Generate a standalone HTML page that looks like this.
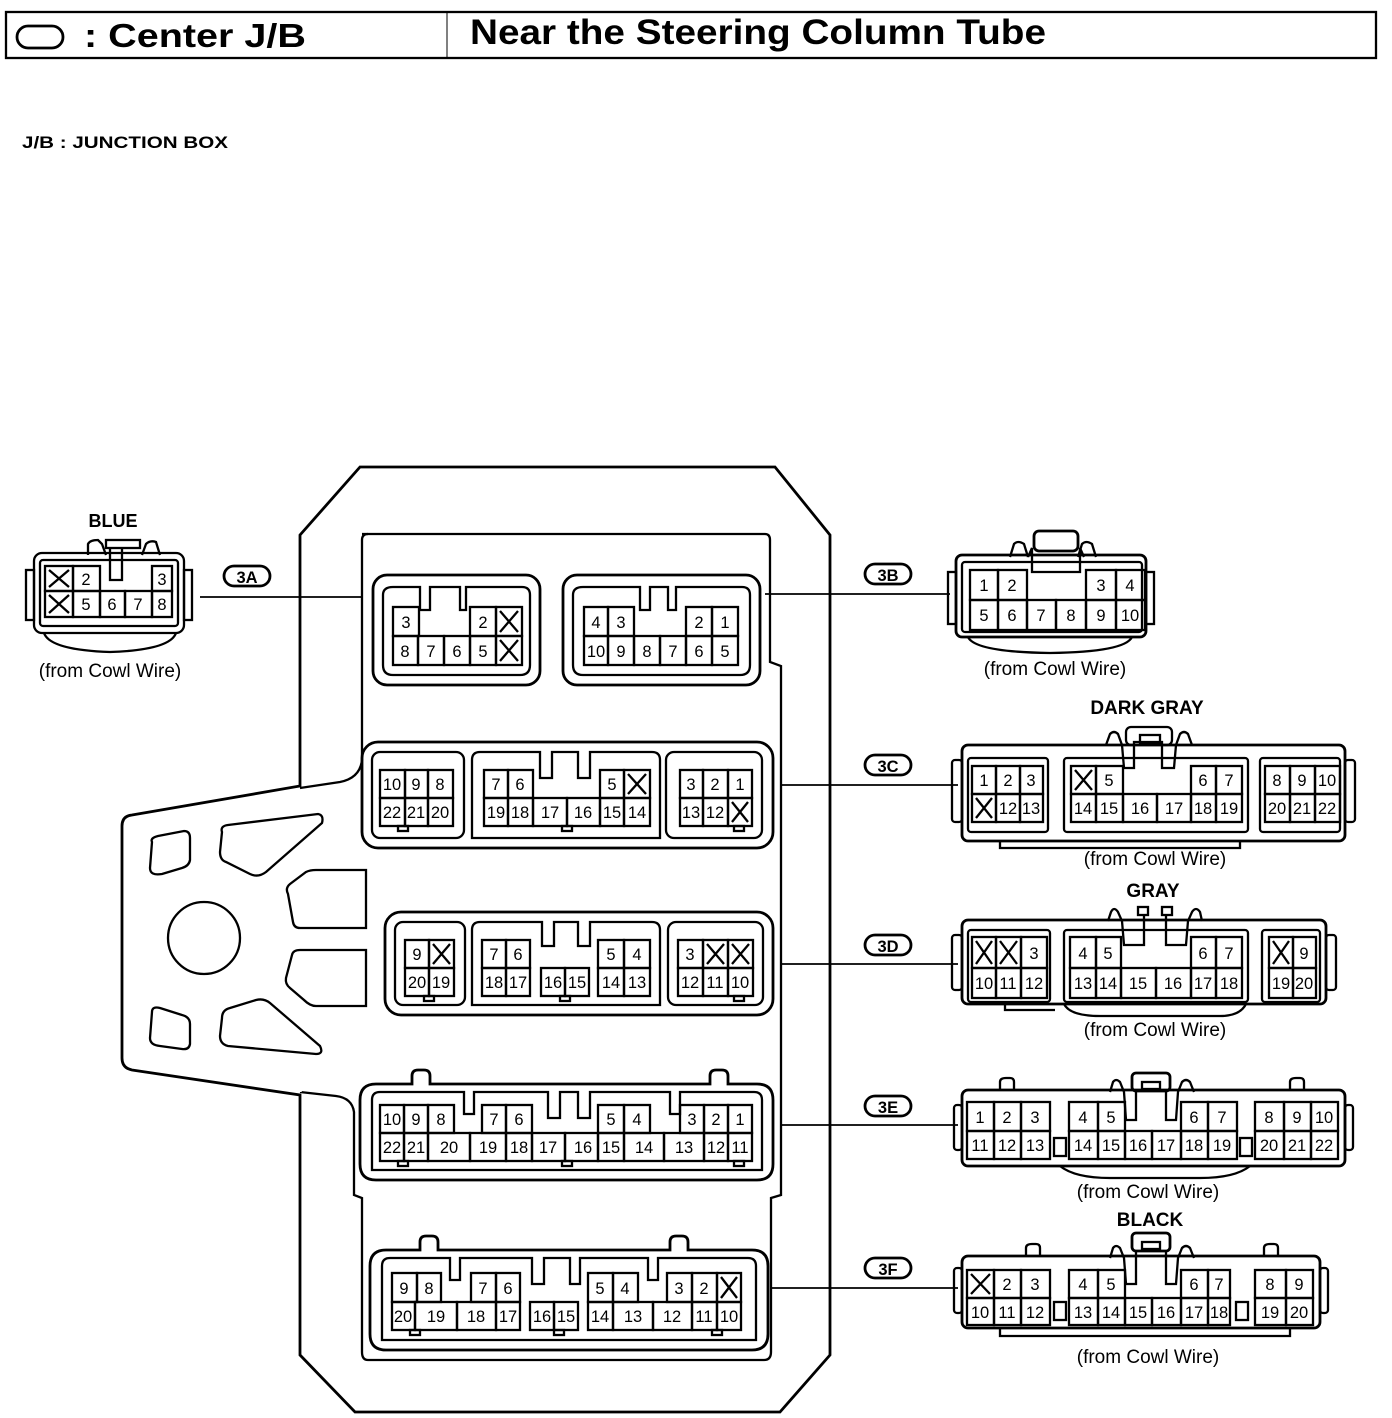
<!DOCTYPE html>
<html><head><meta charset="utf-8"><style>
html,body{margin:0;padding:0;background:#fff}
svg{display:block}
text{font-family:"Liberation Sans",sans-serif;fill:#000}
.n{font-size:16.5px;text-anchor:middle}
.l{font-size:19px;text-anchor:middle}
.b{font-weight:bold}
rect,path,circle,ellipse,polyline{fill:none;stroke:#000;stroke-width:2.3}
.t{stroke-width:2.8}
</style></head><body>
<svg width="1392" height="1418" viewBox="0 0 1392 1418" xmlns="http://www.w3.org/2000/svg">
<!-- header -->
<rect x="6" y="12" width="1370" height="46" stroke-width="1.5"/>
<line x1="447" y1="12" x2="447" y2="58" stroke="#000" stroke-width="1"/>
<rect x="17" y="26" width="46" height="22" rx="11" class="t"/>
<text x="84" y="47" textLength="222" lengthAdjust="spacingAndGlyphs" style="font-size:33px;font-weight:bold">: Center J/B</text>
<text x="470" y="44" textLength="576" lengthAdjust="spacingAndGlyphs" style="font-size:35px;font-weight:bold">Near the Steering Column Tube</text>
<text x="22" y="148" textLength="206" lengthAdjust="spacingAndGlyphs" style="font-size:17px;font-weight:bold">J/B : JUNCTION BOX</text>

<!-- J/B outer body -->
<path class="t" d="M360,467 L775,467 L830,535 L830,1355 L780,1412 L355,1412 L300,1355 L300,1095 L132,1070 Q122,1068 122,1058 L122,826 Q122,816 132,815 L300,786 L300,535 Z"/>
<path d="M362,534 L765,534 Q770,534 770,540 L770,662 L781,666 L781,1195 L771,1198 L771,1352 Q771,1360 764,1360 L368,1360 Q362,1360 362,1352 L362,1198 L354,1195 L354,1112 Q352,1098 336,1096 L300,1092"/>
<path d="M300,788 L340,782 Q360,778 362,760 L362,540 Q362,534 368,534"/>
<line x1="300" y1="790" x2="300" y2="1092" stroke="#fff" stroke-width="3.5"/>
<!-- ear holes -->
<circle cx="204" cy="938" r="36"/>
<path d="M152,842 Q150,838 158,836 L184,831 Q190,831 190,838 L190,860 Q189,866 182,868 L162,874 Q150,876 150,868 Z"/>
<path d="M222,832 Q220,826 228,825 L318,814 Q324,815 322,823 L266,872 Q258,878 250,874 L226,862 Q220,860 220,852 Z"/>
<path d="M288,894 Q285,888 290,884 L306,872 Q310,870 316,870 L366,870 L366,928 L300,928 Q294,928 293,922 Z"/>
<path d="M292,955 Q293,950 300,950 L366,950 L366,1006 L316,1006 Q310,1006 304,1000 L290,988 Q285,984 286,978 Z"/>
<path d="M152,1012 Q152,1006 160,1008 L182,1015 Q190,1017 190,1024 L190,1044 Q189,1050 182,1049 L160,1046 Q150,1045 150,1038 Z"/>
<path d="M222,1018 Q222,1010 230,1008 L256,1000 Q264,998 270,1003 L320,1046 Q324,1054 316,1054 L228,1046 Q220,1044 220,1036 Z"/>

<!-- ===== 3A ext ===== -->
<text x="113" y="527" class="l b" style="font-size:18px">BLUE</text>
<path d="M88,555 L88,544 Q90,540 98,540 L102,544 L106,555"/>
<path d="M142,555 L146,544 Q150,540 156,542 L160,555"/>
<rect x="106" y="540" width="34" height="8"/>
<path d="M110,548 L110,580 L122,580 L122,548"/>
<rect x="34" y="553" width="150" height="80" rx="8"/>
<rect x="40" y="560" width="138" height="66" rx="3"/>
<rect x="26" y="570" width="8" height="50"/><rect x="184" y="570" width="8" height="50"/>
<path d="M44,633 Q50,650 110,652 Q170,650 176,633"/>
<g>
<rect x="45" y="566" width="28" height="25"/><path d="M49,570 L69,587 M69,570 L49,587"/>
<rect x="73" y="566" width="27" height="25"/><text x="86" y="585" class="n">2</text>
<rect x="152" y="566" width="20" height="25"/><text x="162" y="585" class="n">3</text>
<rect x="45" y="591" width="28" height="26"/><path d="M49,595 L69,613 M69,595 L49,613"/>
<rect x="73" y="591" width="27" height="26"/><text x="86" y="610" class="n">5</text>
<rect x="100" y="591" width="25" height="26"/><text x="112" y="610" class="n">6</text>
<rect x="125" y="591" width="27" height="26"/><text x="138" y="610" class="n">7</text>
<rect x="152" y="591" width="20" height="26"/><text x="162" y="610" class="n">8</text>
</g>
<text x="110" y="677" class="l">(from Cowl Wire)</text>
<rect x="224" y="566" width="46" height="20" rx="10" class="t"/><text x="247" y="583" class="n b">3A</text>
<line x1="200" y1="597" x2="362" y2="597" stroke="#000" stroke-width="1.8"/>

<!-- ===== J/B 3A ===== -->
<rect x="373" y="575" width="167" height="110" rx="14" class="t"/>
<path d="M393,587 L420,587 L420,610 L430,610 L430,587 L460,587 L460,610 L466,610 L466,587 L522,587 Q530,587 530,595 L530,665 Q530,675 520,675 L393,675 Q383,675 383,665 L383,595 Q383,587 393,587"/>
<rect x="393" y="607" width="26" height="29"/><text x="406" y="628" class="n">3</text>
<rect x="470" y="607" width="26" height="29"/><text x="483" y="628" class="n">2</text>
<rect x="496" y="607" width="26" height="29"/><path d="M500,611 L518,632 M518,611 L500,632"/>
<rect x="393" y="636" width="25" height="29"/><text x="405" y="657" class="n">8</text>
<rect x="418" y="636" width="26" height="29"/><text x="431" y="657" class="n">7</text>
<rect x="444" y="636" width="26" height="29"/><text x="457" y="657" class="n">6</text>
<rect x="470" y="636" width="26" height="29"/><text x="483" y="657" class="n">5</text>
<rect x="496" y="636" width="26" height="29"/><path d="M500,640 L518,661 M518,640 L500,661"/>

<!-- ===== J/B 3B ===== -->
<rect x="563" y="575" width="197" height="110" rx="14" class="t"/>
<path d="M583,587 L640,587 L640,610 L650,610 L650,587 L668,587 L668,610 L676,610 L676,587 L742,587 Q750,587 750,595 L750,665 Q750,675 740,675 L583,675 Q573,675 573,665 L573,595 Q573,587 583,587"/>
<rect x="584" y="607" width="24" height="29"/><text x="596" y="628" class="n">4</text>
<rect x="608" y="607" width="26" height="29"/><text x="621" y="628" class="n">3</text>
<rect x="686" y="607" width="26" height="29"/><text x="699" y="628" class="n">2</text>
<rect x="712" y="607" width="26" height="29"/><text x="725" y="628" class="n">1</text>
<rect x="584" y="636" width="24" height="29"/><text x="596" y="657" class="n">10</text>
<rect x="608" y="636" width="26" height="29"/><text x="621" y="657" class="n">9</text>
<rect x="634" y="636" width="26" height="29"/><text x="647" y="657" class="n">8</text>
<rect x="660" y="636" width="26" height="29"/><text x="673" y="657" class="n">7</text>
<rect x="686" y="636" width="26" height="29"/><text x="699" y="657" class="n">6</text>
<rect x="712" y="636" width="26" height="29"/><text x="725" y="657" class="n">5</text>

<!-- ===== J/B 3C ===== -->
<rect x="362" y="742" width="411" height="106" rx="16" class="t"/>
<rect x="372" y="752" width="92" height="86" rx="8"/>
<path d="M480,752 L540,752 L540,778 L552,778 L552,752 L578,752 L578,778 L590,778 L590,752 L652,752 Q660,752 660,760 L660,838 L472,838 L472,760 Q472,752 480,752"/>
<rect x="666" y="752" width="96" height="86" rx="8"/>
<g>
<rect x="380" y="770" width="25" height="28"/><text x="392" y="790" class="n">10</text>
<rect x="405" y="770" width="23" height="28"/><text x="416" y="790" class="n">9</text>
<rect x="428" y="770" width="25" height="28"/><text x="440" y="790" class="n">8</text>
<rect x="380" y="798" width="25" height="28"/><text x="392" y="818" class="n">22</text>
<rect x="405" y="798" width="23" height="28"/><text x="416" y="818" class="n">21</text>
<rect x="428" y="798" width="25" height="28"/><text x="440" y="818" class="n">20</text>
<rect x="398" y="826" width="10" height="5"/>
<rect x="484" y="770" width="24" height="28"/><text x="496" y="790" class="n">7</text>
<rect x="508" y="770" width="25" height="28"/><text x="520" y="790" class="n">6</text>
<rect x="600" y="770" width="24" height="28"/><text x="612" y="790" class="n">5</text>
<rect x="624" y="770" width="26" height="28"/><path d="M628,774 L646,794 M646,774 L628,794"/>
<rect x="484" y="798" width="24" height="28"/><text x="496" y="818" class="n">19</text>
<rect x="508" y="798" width="25" height="28"/><text x="520" y="818" class="n">18</text>
<rect x="533" y="798" width="34" height="28"/><text x="550" y="818" class="n">17</text>
<rect x="567" y="798" width="33" height="28"/><text x="583" y="818" class="n">16</text>
<rect x="600" y="798" width="24" height="28"/><text x="612" y="818" class="n">15</text>
<rect x="624" y="798" width="26" height="28"/><text x="637" y="818" class="n">14</text>
<rect x="562" y="826" width="10" height="5"/>
<rect x="680" y="770" width="23" height="28"/><text x="691" y="790" class="n">3</text>
<rect x="703" y="770" width="25" height="28"/><text x="715" y="790" class="n">2</text>
<rect x="728" y="770" width="24" height="28"/><text x="740" y="790" class="n">1</text>
<rect x="680" y="798" width="23" height="28"/><text x="691" y="818" class="n">13</text>
<rect x="703" y="798" width="25" height="28"/><text x="715" y="818" class="n">12</text>
<rect x="728" y="798" width="24" height="28"/><path d="M732,802 L748,822 M748,802 L732,822"/>
<rect x="734" y="826" width="10" height="5"/>
</g>

<!-- ===== J/B 3D ===== -->
<rect x="385" y="912" width="388" height="103" rx="16" class="t"/>
<rect x="395" y="922" width="70" height="83" rx="8"/>
<path d="M480,922 L542,922 L542,946 L554,946 L554,922 L578,922 L578,946 L590,946 L590,922 L652,922 Q660,922 660,930 L660,1005 L472,1005 L472,930 Q472,922 480,922"/>
<rect x="668" y="922" width="95" height="83" rx="8"/>
<g>
<rect x="405" y="940" width="24" height="28"/><text x="417" y="960" class="n">9</text>
<rect x="429" y="940" width="25" height="28"/><path d="M433,944 L450,964 M450,944 L433,964"/>
<rect x="405" y="968" width="24" height="28"/><text x="417" y="988" class="n">20</text>
<rect x="429" y="968" width="25" height="28"/><text x="441" y="988" class="n">19</text>
<rect x="424" y="996" width="10" height="5"/>
<rect x="482" y="940" width="24" height="28"/><text x="494" y="960" class="n">7</text>
<rect x="506" y="940" width="24" height="28"/><text x="518" y="960" class="n">6</text>
<rect x="482" y="968" width="24" height="28"/><text x="494" y="988" class="n">18</text>
<rect x="506" y="968" width="24" height="28"/><text x="518" y="988" class="n">17</text>
<rect x="541" y="968" width="24" height="28"/><text x="553" y="988" class="n">16</text>
<rect x="565" y="968" width="24" height="28"/><text x="577" y="988" class="n">15</text>
<rect x="560" y="996" width="10" height="5"/>
<rect x="598" y="940" width="26" height="28"/><text x="611" y="960" class="n">5</text>
<rect x="624" y="940" width="26" height="28"/><text x="637" y="960" class="n">4</text>
<rect x="598" y="968" width="26" height="28"/><text x="611" y="988" class="n">14</text>
<rect x="624" y="968" width="26" height="28"/><text x="637" y="988" class="n">13</text>
<rect x="678" y="940" width="25" height="28"/><text x="690" y="960" class="n">3</text>
<rect x="703" y="940" width="25" height="28"/><path d="M707,944 L724,964 M724,944 L707,964"/>
<rect x="728" y="940" width="25" height="28"/><path d="M732,944 L749,964 M749,944 L732,964"/>
<rect x="678" y="968" width="25" height="28"/><text x="690" y="988" class="n">12</text>
<rect x="703" y="968" width="25" height="28"/><text x="715" y="988" class="n">11</text>
<rect x="728" y="968" width="25" height="28"/><text x="740" y="988" class="n">10</text>
<rect x="734" y="996" width="10" height="5"/>
</g>

<!-- ===== J/B 3E ===== -->
<path class="t" d="M376,1084 L412,1084 L412,1076 Q412,1070 418,1070 L424,1070 Q430,1070 430,1076 L430,1084 L710,1084 L710,1076 Q710,1070 716,1070 L722,1070 Q728,1070 728,1076 L728,1084 L757,1084 Q773,1084 773,1100 L773,1164 Q773,1180 757,1180 L376,1180 Q360,1180 360,1164 L360,1100 Q360,1084 376,1084 Z"/>
<path d="M380,1092 L464,1092 L464,1114 L474,1114 L474,1092 L548,1092 L548,1118 L560,1118 L560,1092 L578,1092 L578,1118 L590,1118 L590,1092 L670,1092 L670,1114 L680,1114 L680,1092 L754,1092 Q762,1092 762,1100 L762,1170 L372,1170 L372,1100 Q372,1092 380,1092"/>
<g>
<rect x="380" y="1105" width="24" height="28"/><text x="392" y="1125" class="n">10</text>
<rect x="404" y="1105" width="24" height="28"/><text x="416" y="1125" class="n">9</text>
<rect x="428" y="1105" width="26" height="28"/><text x="441" y="1125" class="n">8</text>
<rect x="482" y="1105" width="24" height="28"/><text x="494" y="1125" class="n">7</text>
<rect x="506" y="1105" width="26" height="28"/><text x="519" y="1125" class="n">6</text>
<rect x="598" y="1105" width="26" height="28"/><text x="611" y="1125" class="n">5</text>
<rect x="624" y="1105" width="26" height="28"/><text x="637" y="1125" class="n">4</text>
<rect x="680" y="1105" width="24" height="28"/><text x="692" y="1125" class="n">3</text>
<rect x="704" y="1105" width="24" height="28"/><text x="716" y="1125" class="n">2</text>
<rect x="728" y="1105" width="24" height="28"/><text x="740" y="1125" class="n">1</text>
<rect x="380" y="1133" width="24" height="28"/><text x="392" y="1153" class="n">22</text>
<rect x="404" y="1133" width="24" height="28"/><text x="416" y="1153" class="n">21</text>
<rect x="428" y="1133" width="42" height="28"/><text x="449" y="1153" class="n">20</text>
<rect x="470" y="1133" width="36" height="28"/><text x="488" y="1153" class="n">19</text>
<rect x="506" y="1133" width="26" height="28"/><text x="519" y="1153" class="n">18</text>
<rect x="532" y="1133" width="33" height="28"/><text x="548" y="1153" class="n">17</text>
<rect x="565" y="1133" width="33" height="28"/><text x="583" y="1153" class="n">16</text>
<rect x="598" y="1133" width="26" height="28"/><text x="611" y="1153" class="n">15</text>
<rect x="624" y="1133" width="40" height="28"/><text x="644" y="1153" class="n">14</text>
<rect x="664" y="1133" width="40" height="28"/><text x="684" y="1153" class="n">13</text>
<rect x="704" y="1133" width="24" height="28"/><text x="716" y="1153" class="n">12</text>
<rect x="728" y="1133" width="24" height="28"/><text x="740" y="1153" class="n">11</text>
<rect x="398" y="1161" width="10" height="5"/><rect x="562" y="1161" width="10" height="5"/><rect x="734" y="1161" width="10" height="5"/>
</g>

<!-- ===== J/B 3F ===== -->
<path class="t" d="M386,1250 L420,1250 L420,1242 Q420,1236 426,1236 L432,1236 Q438,1236 438,1242 L438,1250 L670,1250 L670,1242 Q670,1236 676,1236 L682,1236 Q688,1236 688,1242 L688,1250 L752,1250 Q768,1250 768,1266 L768,1334 Q768,1350 752,1350 L386,1350 Q370,1350 370,1334 L370,1266 Q370,1250 386,1250 Z"/>
<path d="M390,1258 L450,1258 L450,1280 L460,1280 L460,1258 L532,1258 L532,1284 L544,1284 L544,1258 L570,1258 L570,1284 L580,1284 L580,1258 L648,1258 L648,1280 L658,1280 L658,1258 L748,1258 Q756,1258 756,1266 L756,1340 L382,1340 L382,1266 Q382,1258 390,1258"/>
<g>
<rect x="392" y="1273" width="25" height="29"/><text x="404" y="1294" class="n">9</text>
<rect x="417" y="1273" width="24" height="29"/><text x="429" y="1294" class="n">8</text>
<rect x="471" y="1273" width="25" height="29"/><text x="483" y="1294" class="n">7</text>
<rect x="496" y="1273" width="24" height="29"/><text x="508" y="1294" class="n">6</text>
<rect x="588" y="1273" width="25" height="29"/><text x="600" y="1294" class="n">5</text>
<rect x="613" y="1273" width="25" height="29"/><text x="625" y="1294" class="n">4</text>
<rect x="667" y="1273" width="25" height="29"/><text x="679" y="1294" class="n">3</text>
<rect x="692" y="1273" width="25" height="29"/><text x="704" y="1294" class="n">2</text>
<rect x="717" y="1273" width="24" height="29"/><path d="M721,1277 L737,1298 M737,1277 L721,1298"/>
<rect x="392" y="1302" width="23" height="28"/><text x="403" y="1322" class="n">20</text>
<rect x="415" y="1302" width="42" height="28"/><text x="436" y="1322" class="n">19</text>
<rect x="457" y="1302" width="39" height="28"/><text x="476" y="1322" class="n">18</text>
<rect x="496" y="1302" width="24" height="28"/><text x="508" y="1322" class="n">17</text>
<rect x="530" y="1302" width="24" height="28"/><text x="542" y="1322" class="n">16</text>
<rect x="554" y="1302" width="24" height="28"/><text x="566" y="1322" class="n">15</text>
<rect x="588" y="1302" width="25" height="28"/><text x="600" y="1322" class="n">14</text>
<rect x="613" y="1302" width="40" height="28"/><text x="633" y="1322" class="n">13</text>
<rect x="653" y="1302" width="39" height="28"/><text x="672" y="1322" class="n">12</text>
<rect x="692" y="1302" width="25" height="28"/><text x="704" y="1322" class="n">11</text>
<rect x="717" y="1302" width="24" height="28"/><text x="729" y="1322" class="n">10</text>
<rect x="410" y="1330" width="10" height="5"/><rect x="554" y="1330" width="10" height="5"/><rect x="712" y="1330" width="10" height="5"/>
</g>

<!-- ===== connector labels & lines ===== -->
<rect x="865" y="564" width="46" height="20" rx="10" class="t"/><text x="888" y="581" class="n b">3B</text>
<line x1="765" y1="594" x2="950" y2="594" stroke="#000" stroke-width="1.8"/>
<rect x="865" y="755" width="46" height="20" rx="10" class="t"/><text x="888" y="772" class="n b">3C</text>
<line x1="781" y1="785" x2="958" y2="785" stroke="#000" stroke-width="1.8"/>
<rect x="865" y="935" width="46" height="20" rx="10" class="t"/><text x="888" y="952" class="n b">3D</text>
<line x1="781" y1="964" x2="958" y2="964" stroke="#000" stroke-width="1.8"/>
<rect x="865" y="1096" width="46" height="20" rx="10" class="t"/><text x="888" y="1113" class="n b">3E</text>
<line x1="781" y1="1125" x2="958" y2="1125" stroke="#000" stroke-width="1.8"/>
<rect x="865" y="1258" width="46" height="20" rx="10" class="t"/><text x="888" y="1275" class="n b">3F</text>
<line x1="771" y1="1288" x2="958" y2="1288" stroke="#000" stroke-width="1.8"/>

<!-- ===== 3B ext ===== -->
<path d="M1010,557 L1014,544 Q1018,540 1024,544 L1028,557"/>
<path d="M1078,557 L1082,544 Q1086,540 1092,544 L1096,557"/>
<rect x="1034" y="531" width="44" height="20" rx="5" class="t"/>
<path d="M1028,557 L1032,548 L1032,572 L1080,572 L1080,548 L1084,557"/>
<rect x="956" y="555" width="190" height="82" rx="6" class="t"/>
<rect x="962" y="562" width="180" height="70" rx="3"/>
<rect x="948" y="572" width="8" height="52"/><rect x="1146" y="572" width="8" height="52"/>
<path d="M968,637 Q975,652 1050,653 Q1125,652 1132,637"/>
<g>
<rect x="970" y="570" width="28" height="30"/><text x="984" y="591" class="n">1</text>
<rect x="998" y="570" width="29" height="30"/><text x="1012" y="591" class="n">2</text>
<rect x="1086" y="570" width="30" height="30"/><text x="1101" y="591" class="n">3</text>
<rect x="1116" y="570" width="29" height="30"/><text x="1130" y="591" class="n">4</text>
<rect x="970" y="600" width="28" height="30"/><text x="984" y="621" class="n">5</text>
<rect x="998" y="600" width="29" height="30"/><text x="1012" y="621" class="n">6</text>
<rect x="1027" y="600" width="29" height="30"/><text x="1041" y="621" class="n">7</text>
<rect x="1056" y="600" width="30" height="30"/><text x="1071" y="621" class="n">8</text>
<rect x="1086" y="600" width="30" height="30"/><text x="1101" y="621" class="n">9</text>
<rect x="1116" y="600" width="29" height="30"/><text x="1130" y="621" class="n">10</text>
</g>
<text x="1055" y="675" class="l">(from Cowl Wire)</text>

<!-- ===== 3C ext ===== -->
<text x="1147" y="714" class="l b" style="font-size:19px">DARK GRAY</text>
<rect x="1126" y="727" width="46" height="18" rx="5"/>
<rect x="1140" y="735" width="20" height="8"/>
<path d="M1106,745 L1110,734 Q1114,730 1118,734 L1122,745 L1124,768 L1134,768 L1134,742 L1162,742 L1162,768 L1174,768 L1176,745 L1180,734 Q1184,730 1188,734 L1192,745"/>
<rect x="962" y="745" width="383" height="96" rx="6" class="t"/>
<rect x="952" y="760" width="10" height="62" rx="3"/><rect x="1345" y="760" width="10" height="62" rx="3"/>
<rect x="968" y="758" width="80" height="74" rx="3"/>
<rect x="1064" y="758" width="184" height="74" rx="3"/>
<rect x="1260" y="758" width="80" height="74" rx="3"/>
<path d="M1000,841 L1000,848 L1240,848 L1240,841"/>
<g>
<rect x="972" y="766" width="24" height="28"/><text x="984" y="786" class="n">1</text>
<rect x="996" y="766" width="24" height="28"/><text x="1008" y="786" class="n">2</text>
<rect x="1020" y="766" width="23" height="28"/><text x="1031" y="786" class="n">3</text>
<rect x="972" y="794" width="24" height="28"/><path d="M976,798 L992,818 M992,798 L976,818"/>
<rect x="996" y="794" width="24" height="28"/><text x="1008" y="814" class="n">12</text>
<rect x="1020" y="794" width="23" height="28"/><text x="1031" y="814" class="n">13</text>
<rect x="1071" y="766" width="25" height="28"/><path d="M1075,770 L1092,790 M1092,770 L1075,790"/>
<rect x="1096" y="766" width="27" height="28"/><text x="1109" y="786" class="n">5</text>
<rect x="1191" y="766" width="25" height="28"/><text x="1203" y="786" class="n">6</text>
<rect x="1216" y="766" width="26" height="28"/><text x="1229" y="786" class="n">7</text>
<rect x="1071" y="794" width="25" height="28"/><text x="1083" y="814" class="n">14</text>
<rect x="1096" y="794" width="27" height="28"/><text x="1109" y="814" class="n">15</text>
<rect x="1123" y="794" width="34" height="28"/><text x="1140" y="814" class="n">16</text>
<rect x="1157" y="794" width="34" height="28"/><text x="1174" y="814" class="n">17</text>
<rect x="1191" y="794" width="25" height="28"/><text x="1203" y="814" class="n">18</text>
<rect x="1216" y="794" width="26" height="28"/><text x="1229" y="814" class="n">19</text>
<rect x="1265" y="766" width="25" height="28"/><text x="1277" y="786" class="n">8</text>
<rect x="1290" y="766" width="25" height="28"/><text x="1302" y="786" class="n">9</text>
<rect x="1315" y="766" width="25" height="28"/><text x="1327" y="786" class="n">10</text>
<rect x="1265" y="794" width="25" height="28"/><text x="1277" y="814" class="n">20</text>
<rect x="1290" y="794" width="25" height="28"/><text x="1302" y="814" class="n">21</text>
<rect x="1315" y="794" width="25" height="28"/><text x="1327" y="814" class="n">22</text>
</g>
<text x="1155" y="865" class="l">(from Cowl Wire)</text>

<!-- ===== 3D ext ===== -->
<text x="1153" y="897" class="l b" style="font-size:19px">GRAY</text>
<rect x="1138" y="907" width="10" height="8"/><rect x="1162" y="907" width="10" height="8"/>
<path d="M1108,921 L1111,912 Q1114,906 1118,912 L1122,921 L1124,945 L1144,945 L1144,915 M1166,915 L1166,945 L1186,945 L1188,921 L1192,912 Q1196,906 1200,912 L1202,921"/>
<rect x="962" y="920" width="364" height="84" rx="6" class="t"/>
<rect x="952" y="935" width="10" height="55" rx="3"/><rect x="1326" y="935" width="10" height="55" rx="3"/>
<rect x="968" y="930" width="82" height="72" rx="3"/>
<rect x="1064" y="930" width="184" height="72" rx="3"/>
<rect x="1262" y="930" width="58" height="72" rx="3"/>
<path d="M1005,1004 L1005,1010 L1055,1010 M1064,1004 Q1070,1016 1100,1016 L1220,1016 Q1240,1016 1246,1004"/>
<g>
<rect x="972" y="937" width="24" height="31"/><path d="M976,941 L992,964 M992,941 L976,964"/>
<rect x="996" y="937" width="25" height="31"/><path d="M1000,941 L1017,964 M1017,941 L1000,964"/>
<rect x="1021" y="937" width="26" height="31"/><text x="1034" y="959" class="n">3</text>
<rect x="972" y="968" width="24" height="30"/><text x="984" y="989" class="n">10</text>
<rect x="996" y="968" width="25" height="30"/><text x="1008" y="989" class="n">11</text>
<rect x="1021" y="968" width="26" height="30"/><text x="1034" y="989" class="n">12</text>
<rect x="1070" y="937" width="26" height="31"/><text x="1083" y="959" class="n">4</text>
<rect x="1096" y="937" width="25" height="31"/><text x="1108" y="959" class="n">5</text>
<rect x="1191" y="937" width="25" height="31"/><text x="1203" y="959" class="n">6</text>
<rect x="1216" y="937" width="26" height="31"/><text x="1229" y="959" class="n">7</text>
<rect x="1070" y="968" width="26" height="30"/><text x="1083" y="989" class="n">13</text>
<rect x="1096" y="968" width="25" height="30"/><text x="1108" y="989" class="n">14</text>
<rect x="1121" y="968" width="35" height="30"/><text x="1138" y="989" class="n">15</text>
<rect x="1156" y="968" width="35" height="30"/><text x="1173" y="989" class="n">16</text>
<rect x="1191" y="968" width="25" height="30"/><text x="1203" y="989" class="n">17</text>
<rect x="1216" y="968" width="26" height="30"/><text x="1229" y="989" class="n">18</text>
<rect x="1269" y="937" width="24" height="31"/><path d="M1273,941 L1289,964 M1289,941 L1273,964"/>
<rect x="1293" y="937" width="23" height="31"/><text x="1304" y="959" class="n">9</text>
<rect x="1269" y="968" width="24" height="30"/><text x="1281" y="989" class="n">19</text>
<rect x="1293" y="968" width="23" height="30"/><text x="1304" y="989" class="n">20</text>
</g>
<text x="1155" y="1036" class="l">(from Cowl Wire)</text>

<!-- ===== 3E ext ===== -->
<rect x="1132" y="1073" width="38" height="18" rx="4" class="t"/>
<rect x="1142" y="1082" width="18" height="7"/>
<path d="M1110,1092 L1113,1082 Q1116,1078 1120,1082 L1124,1092 L1126,1120 L1136,1120 L1136,1091 M1166,1091 L1166,1120 L1176,1120 L1178,1092 L1182,1082 Q1186,1078 1190,1082 L1194,1092"/>
<path d="M1000,1090 L1000,1082 Q1000,1078 1006,1078 L1010,1078 Q1014,1078 1014,1082 L1014,1090"/>
<path d="M1290,1090 L1290,1082 Q1290,1078 1296,1078 L1300,1078 Q1304,1078 1304,1082 L1304,1090"/>
<rect x="962" y="1090" width="383" height="76" rx="6" class="t"/>
<rect x="954" y="1105" width="8" height="45" rx="3"/><rect x="1345" y="1105" width="8" height="45" rx="3"/>
<path d="M1060,1166 Q1075,1178 1110,1178 L1200,1178 Q1235,1178 1250,1166"/>
<g>
<rect x="967" y="1102" width="27" height="29"/><text x="980" y="1123" class="n">1</text>
<rect x="994" y="1102" width="27" height="29"/><text x="1007" y="1123" class="n">2</text>
<rect x="1021" y="1102" width="29" height="29"/><text x="1035" y="1123" class="n">3</text>
<rect x="967" y="1131" width="27" height="28"/><text x="980" y="1151" class="n">11</text>
<rect x="994" y="1131" width="27" height="28"/><text x="1007" y="1151" class="n">12</text>
<rect x="1021" y="1131" width="29" height="28"/><text x="1035" y="1151" class="n">13</text>
<rect x="1054" y="1138" width="12" height="18"/>
<rect x="1069" y="1102" width="29" height="29"/><text x="1083" y="1123" class="n">4</text>
<rect x="1098" y="1102" width="27" height="29"/><text x="1111" y="1123" class="n">5</text>
<rect x="1181" y="1102" width="27" height="29"/><text x="1194" y="1123" class="n">6</text>
<rect x="1208" y="1102" width="29" height="29"/><text x="1222" y="1123" class="n">7</text>
<rect x="1069" y="1131" width="29" height="28"/><text x="1083" y="1151" class="n">14</text>
<rect x="1098" y="1131" width="27" height="28"/><text x="1111" y="1151" class="n">15</text>
<rect x="1125" y="1131" width="27" height="28"/><text x="1138" y="1151" class="n">16</text>
<rect x="1152" y="1131" width="29" height="28"/><text x="1166" y="1151" class="n">17</text>
<rect x="1181" y="1131" width="27" height="28"/><text x="1194" y="1151" class="n">18</text>
<rect x="1208" y="1131" width="29" height="28"/><text x="1222" y="1151" class="n">19</text>
<rect x="1240" y="1138" width="12" height="18"/>
<rect x="1255" y="1102" width="29" height="29"/><text x="1269" y="1123" class="n">8</text>
<rect x="1284" y="1102" width="27" height="29"/><text x="1297" y="1123" class="n">9</text>
<rect x="1311" y="1102" width="27" height="29"/><text x="1324" y="1123" class="n">10</text>
<rect x="1255" y="1131" width="29" height="28"/><text x="1269" y="1151" class="n">20</text>
<rect x="1284" y="1131" width="27" height="28"/><text x="1297" y="1151" class="n">21</text>
<rect x="1311" y="1131" width="27" height="28"/><text x="1324" y="1151" class="n">22</text>
</g>
<text x="1148" y="1198" class="l">(from Cowl Wire)</text>

<!-- ===== 3F ext ===== -->
<text x="1150" y="1226" class="l b" style="font-size:19px">BLACK</text>
<rect x="1132" y="1233" width="38" height="18" rx="4" class="t"/>
<rect x="1142" y="1242" width="18" height="7"/>
<path d="M1110,1258 L1113,1248 Q1116,1244 1120,1248 L1124,1258 L1126,1284 L1136,1284 L1136,1251 M1166,1251 L1166,1284 L1176,1284 L1178,1258 L1182,1248 Q1186,1244 1190,1248 L1194,1258"/>
<path d="M1026,1256 L1026,1248 Q1026,1244 1032,1244 L1036,1244 Q1040,1244 1040,1248 L1040,1256"/>
<path d="M1264,1256 L1264,1248 Q1264,1244 1270,1244 L1274,1244 Q1278,1244 1278,1248 L1278,1256"/>
<rect x="962" y="1256" width="358" height="72" rx="6" class="t"/>
<rect x="954" y="1268" width="8" height="45" rx="3"/><rect x="1320" y="1268" width="8" height="45" rx="3"/>
<path d="M1000,1328 L1000,1336 L1290,1336 L1290,1328"/>
<g>
<rect x="967" y="1270" width="27" height="28"/><path d="M971,1274 L990,1294 M990,1274 L971,1294"/>
<rect x="994" y="1270" width="27" height="28"/><text x="1007" y="1290" class="n">2</text>
<rect x="1021" y="1270" width="29" height="28"/><text x="1035" y="1290" class="n">3</text>
<rect x="967" y="1298" width="27" height="27"/><text x="980" y="1318" class="n">10</text>
<rect x="994" y="1298" width="27" height="27"/><text x="1007" y="1318" class="n">11</text>
<rect x="1021" y="1298" width="29" height="27"/><text x="1035" y="1318" class="n">12</text>
<rect x="1054" y="1302" width="12" height="18"/>
<rect x="1069" y="1270" width="29" height="28"/><text x="1083" y="1290" class="n">4</text>
<rect x="1098" y="1270" width="27" height="28"/><text x="1111" y="1290" class="n">5</text>
<rect x="1181" y="1270" width="27" height="28"/><text x="1194" y="1290" class="n">6</text>
<rect x="1208" y="1270" width="22" height="28"/><text x="1219" y="1290" class="n">7</text>
<rect x="1069" y="1298" width="29" height="27"/><text x="1083" y="1318" class="n">13</text>
<rect x="1098" y="1298" width="27" height="27"/><text x="1111" y="1318" class="n">14</text>
<rect x="1125" y="1298" width="27" height="27"/><text x="1138" y="1318" class="n">15</text>
<rect x="1152" y="1298" width="29" height="27"/><text x="1166" y="1318" class="n">16</text>
<rect x="1181" y="1298" width="27" height="27"/><text x="1194" y="1318" class="n">17</text>
<rect x="1208" y="1298" width="22" height="27"/><text x="1219" y="1318" class="n">18</text>
<rect x="1236" y="1302" width="12" height="18"/>
<rect x="1255" y="1270" width="31" height="28"/><text x="1270" y="1290" class="n">8</text>
<rect x="1286" y="1270" width="27" height="28"/><text x="1299" y="1290" class="n">9</text>
<rect x="1255" y="1298" width="31" height="27"/><text x="1270" y="1318" class="n">19</text>
<rect x="1286" y="1298" width="27" height="27"/><text x="1299" y="1318" class="n">20</text>
</g>
<text x="1148" y="1363" class="l">(from Cowl Wire)</text>
</svg>
</body></html>
